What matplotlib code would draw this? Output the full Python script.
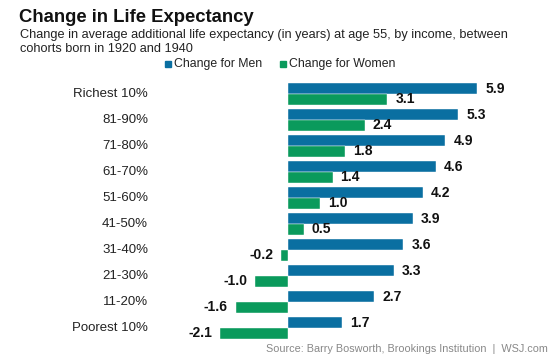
import matplotlib
matplotlib.use("Agg")
import matplotlib.pyplot as plt
import numpy as np

plt.rcParams["font.family"] = ["Liberation Sans", "DejaVu Sans"]

# Data
groups = ["Richest 10%", "81-90%", "71-80%", "61-70%", "51-60%",
          "41-50%", "31-40%", "21-30%", "11-20%", "Poorest 10%"]
men = [5.9, 5.3, 4.9, 4.6, 4.2, 3.9, 3.6, 3.3, 2.7, 1.7]
women = [3.1, 2.4, 1.8, 1.4, 1.0, 0.5, -0.2, -1.0, -1.6, -2.1]

blue = "#0a6fa1"
green = "#0a9a5c"

fig = plt.figure(figsize=(5.54, 3.54), dpi=100)
W, H = 554, 354

# axes placed so zero sits at ~287px and groups span ~81-341px
ax = fig.add_axes([200 / W, 1 - 341 / H, 340 / W, 260 / H])
scale = 32.2  # px per year
ax.set_xlim(-(287.5 - 200) / scale, (540 - 287.5) / scale)
ax.set_ylim(9.5, -0.5)

y = np.arange(len(groups))
h = 0.42
ax.barh(y - h / 2, men, height=h, color=blue, edgecolor="white", linewidth=0.3)
ax.barh(y + h / 2, women, height=h, color=green, edgecolor="white", linewidth=0.3)

pad = 8 / scale
for i, (m, w) in enumerate(zip(men, women)):
    ax.text(m + pad, i - h / 2, f"{m:.1f}", ha="left", va="center",
            fontsize=10, fontweight="bold", color="#111111")
    if w >= 0:
        ax.text(w + pad, i + h / 2, f"{w:.1f}", ha="left", va="center",
                fontsize=10, fontweight="bold", color="#111111")
    else:
        ax.text(w - pad, i + h / 2, f"{w:.1f}", ha="right", va="center",
                fontsize=10, fontweight="bold", color="#111111")

# category labels
for i, g in enumerate(groups):
    ax.text(-(287.5 - 148) / scale, i, g, ha="right", va="center",
            fontsize=9.5, color="#222222", clip_on=False)

ax.axis("off")

# titles
fig.text(19 / W, 1 - 17 / H, "Change in Life Expectancy", fontsize=13.3,
         fontweight="bold", va="center", ha="left", color="#111111")
fig.text(20 / W, 1 - 35 / H,
         "Change in average additional life expectancy (in years) at age 55, by income, between",
         fontsize=9.2, va="center", ha="left", color="#222222")
fig.text(20 / W, 1 - 49 / H, "cohorts born in 1920 and 1940",
         fontsize=9.2, va="center", ha="left", color="#222222")

# legend
for x0, col, lab in [(165, blue, "Change for Men"), (280, green, "Change for Women")]:
    fig.patches.append(plt.Rectangle((x0 / W, 1 - 67 / H), 6 / W, 6 / H,
                                     transform=fig.transFigure, color=col))
    fig.text((x0 + 9) / W, 1 - 64 / H, lab, fontsize=8.8, va="center",
             ha="left", color="#222222")

fig.text(548 / W, 1 - 349 / H,
         "Source: Barry Bosworth, Brookings Institution  |  WSJ.com",
         fontsize=7.8, va="center", ha="right", color="#888888")

fig.savefig("out.png", dpi=100)
